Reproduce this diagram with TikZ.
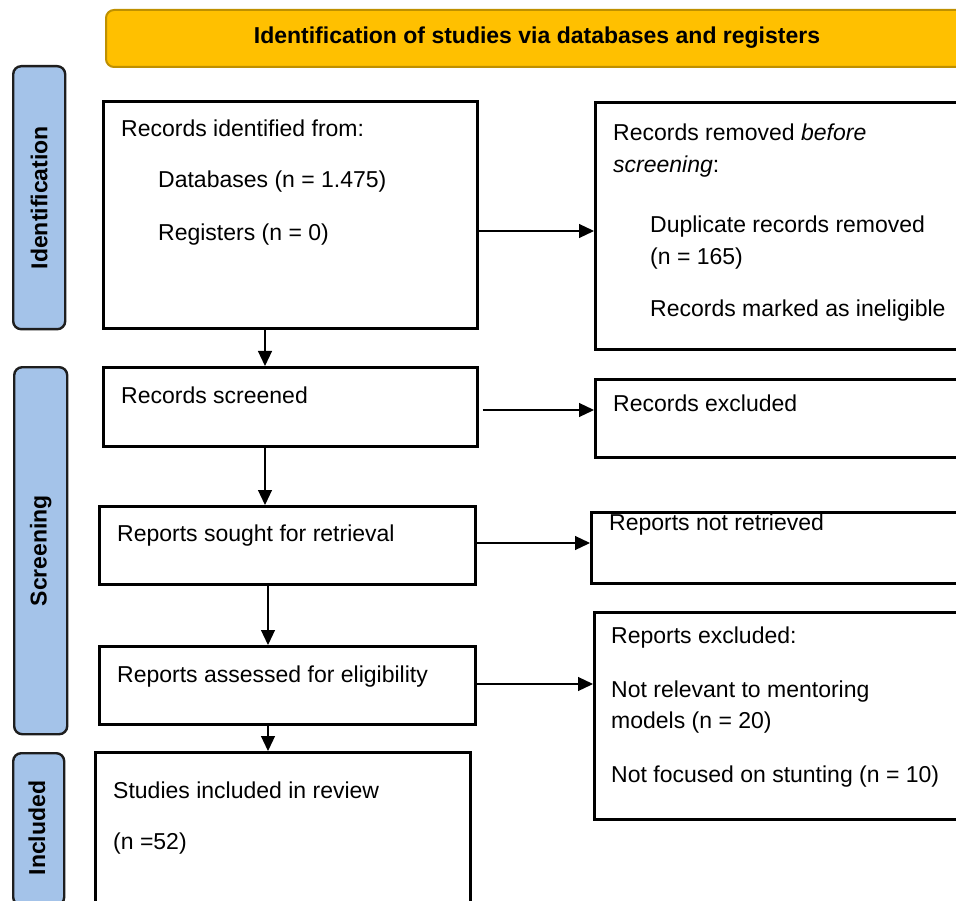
\documentclass[tikz,border=0pt]{standalone}
\usepackage{fontspec}
\setmainfont{Liberation Sans}
\usetikzlibrary{arrows.meta}
\definecolor{hdrfill}{RGB}{255,192,0}
\definecolor{hdrdraw}{RGB}{191,144,0}
\definecolor{sidefill}{RGB}{164,195,233}
\definecolor{sidedraw}{RGB}{30,30,30}
\tikzset{
  mainbox/.style={draw=black, line width=2.6pt, rectangle, inner sep=0pt, anchor=north west, fill=white},
  hdrbox/.style={draw=hdrdraw, fill=hdrfill, line width=2pt, rounded corners=8pt, inner sep=0pt, anchor=north west},
  sidebox/.style={draw=sidedraw, fill=sidefill, line width=2.4pt, rounded corners=8pt, inner sep=0pt, anchor=north west},
  txt/.style={anchor=base west, inner sep=0pt, font=\fontsize{23}{27}\selectfont},
  boldtxt/.style={inner sep=0pt, font=\fontsize{23}{27}\selectfont\bfseries},
  sidetxt/.style={inner sep=0pt, rotate=90, font=\fontsize{23}{27}\selectfont\bfseries},
  arr/.style={line width=1.2pt, -{Triangle[length=15pt, width=14pt]}}
}
\begin{document}
\begin{tikzpicture}[x=1pt, y=-1pt]
\useasboundingbox (0,0) rectangle (956,901);
\clip (0,0) rectangle (956,901);
\fill[white] (0,0) rectangle (956,901);
% header
\node[hdrbox, minimum width=863pt, minimum height=57pt] (hdr) at (105,9) {};
\node[boldtxt] (hdrt) at (537,38) {Identification of studies via databases and registers};
% side labels
\node[sidebox, minimum width=52pt, minimum height=263pt] (sid) at (12,65) {};
\node[sidetxt] (sidt) at (sid.center) {Identification};
\node[sidebox, minimum width=53pt, minimum height=367pt] (sscr) at (13,366) {};
\node[sidetxt] (sscrt) at (sscr.center) {Screening};
\node[sidebox, minimum width=51pt, minimum height=152pt] (sinc) at (12,752) {};
\node[sidetxt] (sinct) at (37,828) {Included};
% main boxes
\node[mainbox, minimum width=374pt, minimum height=227pt] (ident) at (102,100) {};
\node[mainbox, minimum width=381pt, minimum height=247pt] (removed) at (594,101) {};
\node[mainbox, minimum width=374pt, minimum height=79pt] (screened) at (102,366) {};
\node[mainbox, minimum width=381pt, minimum height=78pt] (excl1) at (594,378) {};
\node[mainbox, minimum width=376pt, minimum height=78pt] (sought) at (98,505) {};
\node[mainbox, minimum width=385pt, minimum height=71pt] (notret) at (590,511) {};
\node[mainbox, minimum width=376pt, minimum height=78pt] (assessed) at (98,645) {};
\node[mainbox, minimum width=382pt, minimum height=207pt] (excl2) at (593,611) {};
\node[mainbox, minimum width=375pt, minimum height=190pt] (included) at (94,751) {};
% texts
\node[txt] (t1) at (121,136.5) {Records identified from:};
\node[txt] (t2) at (158,188) {Databases (n = 1.475)};
\node[txt] (t3) at (158,241) {Registers (n = 0)};
\node[txt] (r1) at (613,141) {Records removed \textit{before}};
\node[txt] (r2) at (613,173) {\textit{screening}:};
\node[txt] (r3) at (650,233) {Duplicate records removed};
\node[txt] (r4) at (650,265) {(n = 165)};
\node[txt] (r5) at (650,317) {Records marked as ineligible};
\node[txt] (s1) at (121,403) {Records screened};
\node[txt] (e1) at (613,411) {Records excluded};
\node[txt] (so) at (117,541.5) {Reports sought for retrieval};
\node[txt] (nr) at (609,530) {Reports not retrieved};
\node[txt] (as) at (117,682.5) {Reports assessed for eligibility};
\node[txt] (x1) at (611,643) {Reports excluded:};
\node[txt] (x2) at (611,697) {Not relevant to mentoring};
\node[txt] (x3) at (611,728) {models (n = 20)};
\node[txt] (x4) at (611,782) {Not focused on stunting (n = 10)};
\node[txt] (i1) at (113,798) {Studies included in review};
\node[txt] (i2) at (113,849) {(n =52)};
% guide coordinates
\coordinate (vA) at (265,0);
\coordinate (vB) at (268,0);
\coordinate (h1) at (0,231);
\coordinate (h2) at (0,410);
\coordinate (h3) at (0,543);
\coordinate (h4) at (0,684);
% vertical arrows
\draw[arr] (ident.south -| vA) -- (screened.north -| vA);
\draw[arr] (screened.south -| vA) -- (sought.north -| vA);
\draw[arr] (sought.south -| vB) -- (assessed.north -| vB);
\draw[arr] (assessed.south -| vB) -- (included.north -| vB);
% horizontal arrows
\draw[arr] (ident.east |- h1) -- (removed.west |- h1);
\draw[arr] ([xshift=4pt]screened.east |- h2) -- (excl1.west |- h2);
\draw[arr] (sought.east |- h3) -- (notret.west |- h3);
\draw[arr] (assessed.east |- h4) -- (excl2.west |- h4);
\end{tikzpicture}
\end{document}
